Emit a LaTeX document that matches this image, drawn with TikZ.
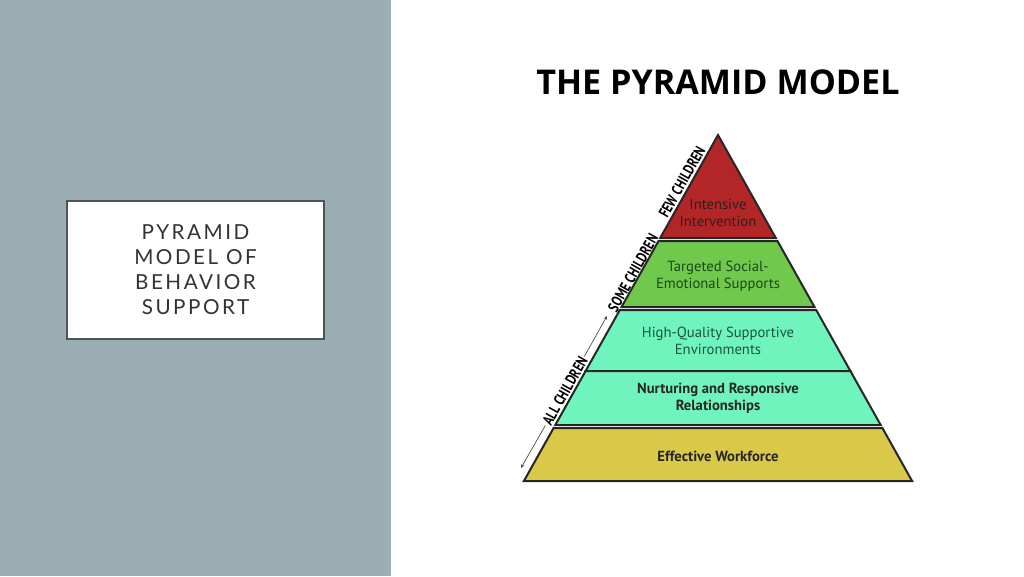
\documentclass[tikz,border=0pt]{standalone}
\usepackage{fontspec}
\usepackage{graphicx}
\setmainfont{PT Sans}
\newfontfamily\titlefont{Open Sans}
\newfontfamily\boxfont[LetterSpace=12]{Lato}
\usetikzlibrary{arrows.meta}

\definecolor{panelgray}{RGB}{154,174,180}
\definecolor{boxedge}{RGB}{75,85,89}
\definecolor{fewred}{RGB}{178,38,40}
\definecolor{somegreen}{RGB}{112,200,76}
\definecolor{allteal}{RGB}{112,244,190}
\definecolor{workyellow}{RGB}{218,200,72}
\definecolor{redtext}{RGB}{45,30,30}
\definecolor{greentext}{RGB}{28,72,30}
\definecolor{tealtext}{RGB}{24,84,64}

\newcommand{\narrowcap}[1]{\scalebox{0.78}[1]{#1}}

\tikzset{every picture/.style={line width=0.75pt},
  layer/.style={draw=black!85, line width=1.5pt, line join=miter},
  laytext/.style={align=center, inner sep=0.75pt, font=\fontsize{11}{12.75}\selectfont},
  sidelbl/.style={inner sep=1pt, rotate=60.7, font=\bfseries\fontsize{11.5}{11.5}\selectfont},
  allarrow/.style={draw=black!70, line width=0.5pt, -{Stealth[length=3pt,width=2.5pt]}},
}

\begin{document}
\begin{tikzpicture}[x=0.75pt,y=0.75pt,yscale=-1,xscale=1]
\useasboundingbox (0,0) rectangle (1024,576);

%Shape: Rectangle [background]
\fill [white] (0,0) rectangle (1024,576);
%Shape: Rectangle [side panel]
\fill [panelgray] (0,0) rectangle (391,576);

% Text Node [title box]
\node [draw=boxedge, line width=1.5pt, fill=white, minimum width=257*0.75pt, minimum height=138*0.75pt, align=center, text=black!80, font=\boxfont\fontsize{15.5}{18.75}\selectfont] (boxtitle) at (195.5,270) {PYRAMID\\MODEL OF\\BEHAVIOR\\SUPPORT};

% Text Node [heading]
\node [inner sep=0.75pt, font=\titlefont\bfseries\fontsize{25.6}{28}\selectfont] (heading) at (718,82) {THE PYRAMID MODEL};

%Shape: Triangle [few children]
\draw [layer, fill=fewred] (718,135) -- (775.8,238) -- (660.2,238) -- cycle ;
%Shape: Trapezoid [some children]
\draw [layer, fill=somegreen] (658.5,241) -- (777.5,241) -- (814.5,307) -- (621.5,307) -- cycle ;
%Shape: Trapezoid [all children, upper]
\draw [layer, fill=allteal] (619.8,310) -- (816.2,310) -- (850.4,371) -- (585.6,371) -- cycle ;
%Shape: Trapezoid [all children, lower]
\draw [layer, fill=allteal] (585.6,371) -- (850.4,371) -- (880.7,425) -- (555.3,425) -- cycle ;
%Shape: Trapezoid [workforce]
\draw [layer, fill=workyellow] (553.6,428) -- (882.4,428) -- (912.1,481) -- (523.9,481) -- cycle ;

% Text Node
\node [laytext, text=redtext] (intensive) at (718,213) {Intensive\\Intervention};
% Text Node
\node [laytext, text=greentext] (targeted) at (718,276) {Targeted Social-\\Emotional Supports};
% Text Node
\node [laytext, text=tealtext] (highq) at (718,341) {High-Quality Supportive\\Environments};
% Text Node
\node [laytext, text=black!85, font=\bfseries\fontsize{11}{12.75}\selectfont] (nurturing) at (718,398) {Nurturing and Responsive\\Relationships};
% Text Node
\node [laytext, text=black!85, font=\bfseries\fontsize{11}{12.75}\selectfont] (workforce) at (718,456) {Effective Workforce};

% Text Node
\node [sidelbl] (fewKids) at (682,182) {\narrowcap{FEW CHILDREN}};
% Text Node
\node [sidelbl] (someKids) at (633,273) {\narrowcap{SOME CHILDREN}};
% Text Node
\node [sidelbl] (allKids) at (565,391) {\narrowcap{ALL CHILDREN}};

\coordinate (allTop) at (607,316);
\coordinate (allBot) at (521,468);
%Straight Lines
\draw [allarrow] (allKids) -- (allTop) ;
\draw [allarrow] (allKids) -- (allBot) ;

\end{tikzpicture}
\end{document}
